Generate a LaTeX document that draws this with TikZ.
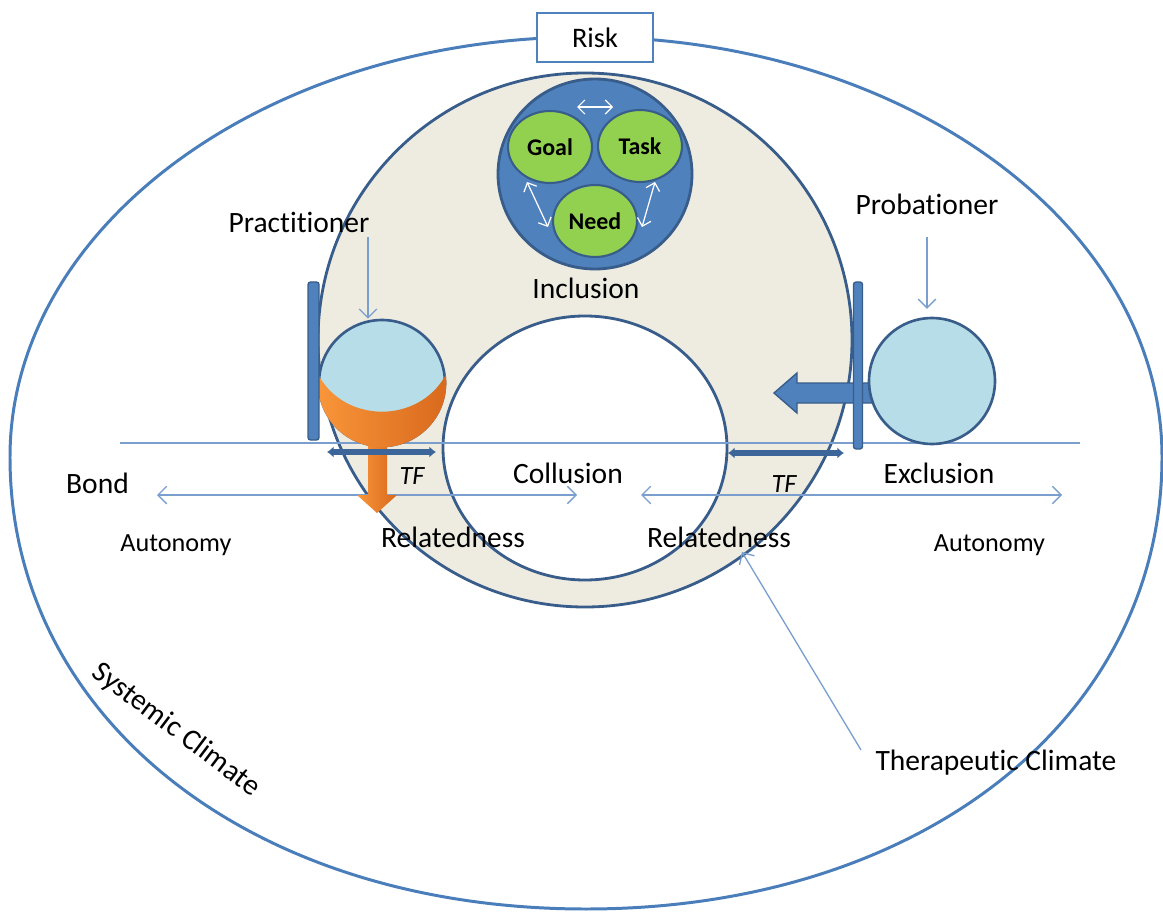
\documentclass[tikz,border=0pt]{standalone}
\usepackage{fontspec}
\setmainfont{Carlito}[Ligatures={NoCommon,NoContextual}]
\usetikzlibrary{arrows.meta,shapes.geometric}

\definecolor{outerblue}{HTML}{4A7EBB}
\definecolor{darkblue}{HTML}{385D8A}
\definecolor{midblue}{HTML}{4F81BD}
\definecolor{thinblue}{HTML}{7A9FCF}
\definecolor{beige}{HTML}{EEECE1}
\definecolor{leafgreen}{HTML}{92D050}
\definecolor{paleblue}{HTML}{B7DEE8}
\definecolor{orangeL}{HTML}{F9963A}
\definecolor{orangeD}{HTML}{D8681C}
\definecolor{tfblue}{HTML}{3C6699}

\begin{document}
\begin{tikzpicture}[x=0.02cm,y=-0.02cm,
  lbl/.style={font=\fontsize{16.8}{20}\selectfont, inner sep=0pt, anchor=base},
  lblsmall/.style={font=\fontsize{14.9}{18}\selectfont, inner sep=0pt, anchor=base},
  lbltf/.style={font=\fontsize{15}{18}\selectfont\itshape, inner sep=0pt, anchor=base},
  outerline/.style={draw=outerblue, line width=1.7pt},
  ringline/.style={draw=darkblue, line width=1.6pt},
  thinline/.style={draw=thinblue, line width=0.75pt},
  barb/.tip={Straight Barb[length=5pt,width=10pt,line width=0.75pt]},
  whitebarb/.tip={Straight Barb[length=4pt,width=8pt,line width=0.7pt]},
  tfarrow/.style={draw=tfblue, line width=3pt, {Latex[length=3.8pt,width=6.5pt]}-{Latex[length=3.8pt,width=6.5pt]}},
  barstyle/.style={fill=midblue, draw=darkblue, line width=0.8pt, rounded corners=1.5pt},
  person/.style={circle, minimum size=2.52cm, inner sep=0pt, draw=darkblue, fill=paleblue, line width=1.5pt},
  leaf/.style={ellipse, minimum width=1.68cm, minimum height=1.44cm, inner sep=0pt,
    draw=darkblue, fill=leafgreen, line width=1.2pt,
    font=\fontsize{13.6}{16}\selectfont\bfseries},
  riskbox/.style={rectangle, minimum width=2.32cm, minimum height=0.98cm, inner sep=0pt,
    draw=midblue, fill=white, line width=1.6pt, font=\fontsize{16.1}{19}\selectfont}
]
\useasboundingbox (0,0) rectangle (1163,912);

% systemic climate (outer boundary)
\draw[outerline] (1162,457) arc[start angle=0,end angle=-180,x radius=576,y radius=420]
  .. controls (10,719.2) and (251.9,909) .. (586,909)
  .. controls (920.1,909) and (1162,719.2) .. (1162,457) -- cycle;

% therapeutic climate ring
\draw[ringline, fill=beige] (585,340) circle[radius=267];
\draw[ringline, fill=white] (585,448) ellipse[x radius=142, y radius=132];

% working alliance: goal, task, need
\draw[ringline, fill=midblue] (595,174) ellipse[x radius=97, y radius=95];
\node[leaf] (goal) at (550,147) {Goal};
\node[leaf] (task) at (640,146) {Task};
\node[leaf] (need) at (595,221) {Need};
\coordinate (wa1) at (577,107); \coordinate (wa2) at (613,107);
\coordinate (wb1) at (527,182); \coordinate (wb2) at (548,227);
\coordinate (wc1) at (655,182); \coordinate (wc2) at (642,227);
\draw[white, line width=0.7pt, whitebarb-whitebarb] (wa1) -- (wa2);
\draw[white, line width=0.7pt, whitebarb-whitebarb] (wb1) -- (wb2);
\draw[white, line width=0.7pt, whitebarb-whitebarb] (wc1) -- (wc2);

% axis lines
\coordinate (axL) at (120,443); \coordinate (axR) at (1080,443);
\draw[thinline] (axL) -- (axR);
\coordinate (la1) at (157,495); \coordinate (la2) at (577,495);
\coordinate (ra1) at (641,495); \coordinate (ra2) at (1062,495);
\draw[thinline, barb-barb] (la1) -- (la2);
\draw[thinline, barb-barb] (ra1) -- (ra2);

% probationer side
\draw[fill=midblue, draw=darkblue, line width=0.8pt]
  (872,383) -- (797,383) -- (797,373) -- (774,393) -- (797,413) -- (797,403) -- (872,403) -- cycle;
\draw[barstyle] (853.5,282) rectangle (862.5,449);
\node[person] (prob) at (932,381) {};

% practitioner side
\node[person] (prac) at (382,383) {};
\shade[left color=orangeL, right color=orangeD]
  (368,440) -- (387,440) -- (387,495) -- (397,495) -- (377,513) -- (357,495) -- (368,495) -- cycle;
\shade[left color=orangeL, right color=orangeD]
  (318.2,374.8) .. controls (345,424) and (419,424) .. (445.8,374.8)
  arc[start angle=-7.3, end angle=187.3, radius=64.3] -- cycle;
\draw[barstyle] (308,282) rectangle (319,440);

% TF arrows
\coordinate (tfl1) at (327,452); \coordinate (tfl2) at (436,452);
\coordinate (tfr1) at (728,453); \coordinate (tfr2) at (844,453);
\draw[tfarrow] (tfl1) -- (tfl2);
\draw[tfarrow] (tfr1) -- (tfr2);

% labels
\node[lbl] (practitioner) at (299,233) {Practitioner};
\node[lbl] (probationer) at (927,215) {Probationer};
\node[lbl] (inclusion) at (586,298) {Inclusion};
\node[lbl] (collusion) at (568,483) {Collusion};
\node[lbl] (exclusion) at (939,483) {Exclusion};
\node[lbl] (bond) at (97.5,493) {Bond};
\node[lblsmall] (autL) at (176,551) {Autonomy};
\node[lblsmall] (autR) at (989.5,551) {Autonomy};
\node[lbl] (relL) at (453,547) {Relatedness};
\node[lbl] (relR) at (719,547) {Relatedness};
\node[lbltf] (tfL) at (412,484) {TF};
\node[lbltf] (tfR) at (784,492) {TF};
\node[lbl] (therap) at (996,770) {Therapeutic Climate};
\node[font=\fontsize{16.8}{20}\selectfont, inner sep=0pt, rotate=-37] (systemic) at (176,730) {Systemic Climate};

% pointers
\coordinate (pa) at (368,237);
\draw[thinline, -barb] (pa) -- (pa |- prac.north);
\coordinate (pb) at (927,237);
\draw[thinline, -barb, shorten >=4.5pt] (pb) -- (pb |- prob.north);
\coordinate (tcs) at (861,750); \coordinate (tce) at (742,552);
\draw[thinline, -barb] (tcs) -- (tce);

% risk
\node[riskbox] (risk) at (595,37.5) {Risk};
\end{tikzpicture}
\end{document}
